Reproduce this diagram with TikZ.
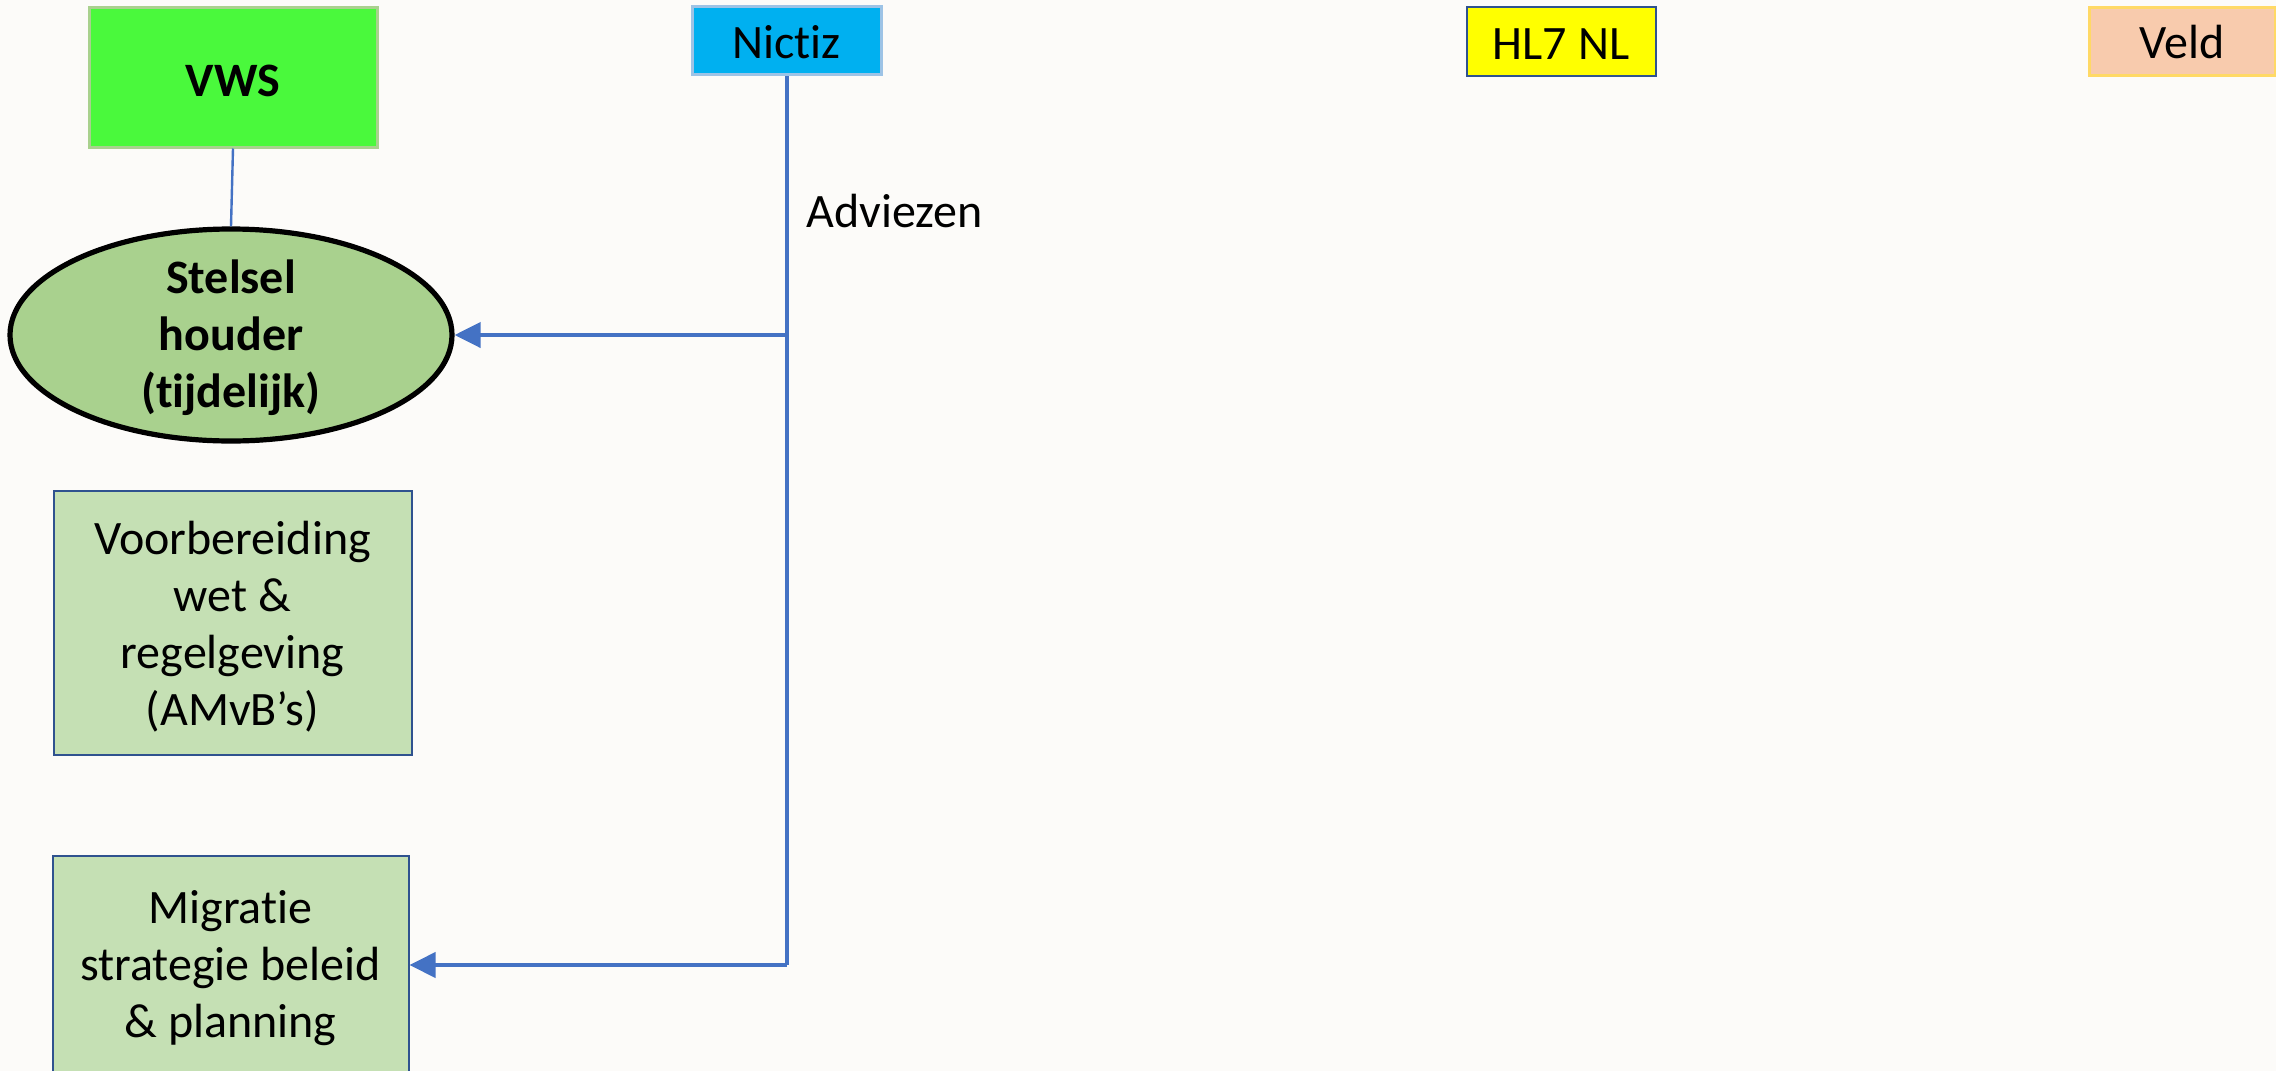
\documentclass[tikz,border=0pt]{standalone}
\usepackage{fontspec}
\setmainfont[Ligatures=NoCommon,RawFeature=-liga]{Carlito}
\usetikzlibrary{shapes.geometric,arrows.meta}
\definecolor{bgc}{RGB}{252,251,249}
\definecolor{vwsfill}{RGB}{74,249,60}
\definecolor{vwsline}{RGB}{169,209,142}
\definecolor{nicfill}{RGB}{0,176,240}
\definecolor{nicline}{RGB}{157,195,230}
\definecolor{hlfill}{RGB}{255,255,0}
\definecolor{darkblue}{RGB}{47,82,143}
\definecolor{veldfill}{RGB}{248,203,173}
\definecolor{veldline}{RGB}{255,217,102}
\definecolor{ellfill}{RGB}{169,209,142}
\definecolor{boxfill}{RGB}{197,224,180}
\definecolor{arrowblue}{RGB}{68,114,196}
\newcommand{\bigstrut}{\rule{0pt}{20pt}}
\newcommand{\smallstrut}{\rule{0pt}{18pt}}
\tikzset{
  txt/.style={font=\fontsize{24pt}{28.5pt}\selectfont, align=center, inner sep=0pt},
  topbox/.style={txt, rectangle, draw},
  greenbox/.style={txt, rectangle, draw=darkblue, line width=1pt, fill=boxfill},
  conn/.style={draw=arrowblue, line width=2pt},
  arr/.style={conn, -{Triangle[length=13pt,width=12.5pt]}},
}
\begin{document}
\begin{tikzpicture}[x=0.5pt,y=-0.5pt]
\fill[bgc] (0,0) rectangle (2276,1071);
\useasboundingbox (0,0) rectangle (2276,1071);
\node[topbox, fill=vwsfill, draw=vwsline, line width=1.5pt, minimum width=144pt, minimum height=70pt, font=\fontsize{24pt}{28.5pt}\selectfont\bfseries] (vws) at (233,77) {\bigstrut VWS};
\node[topbox, fill=nicfill, draw=nicline, line width=1.5pt, minimum width=94.5pt, minimum height=34pt] (nictiz) at (786.5,40.5) {\smallstrut Nictiz};
\node[topbox, fill=hlfill, draw=darkblue, line width=1pt, minimum width=94.5pt, minimum height=34.5pt] (hl7) at (1561,41) {\smallstrut HL7 NL};
\node[topbox, fill=veldfill, draw=veldline, line width=1.5pt, minimum width=93pt, minimum height=34pt] (veld) at (2182,41) {\smallstrut Veld};
\node[txt, ellipse, inner ysep=-6pt, draw=black, line width=2.6pt, fill=ellfill, minimum width=221pt, minimum height=106pt, font=\fontsize{24pt}{28.5pt}\selectfont\bfseries] (stelsel) at (231,335) {\bigstrut Stelsel\\houder\\(tijdelijk)};
\node[greenbox, minimum width=179pt, minimum height=132pt] (voorb) at (232.5,623) {\bigstrut Voorbereiding\\wet \&\\regelgeving\\(AMvB’s)};
\node[greenbox, minimum width=178pt, minimum height=109pt] (migr) at (230.5,965) {\bigstrut Migratie\\strategie beleid\\\& planning};
\node[txt, anchor=base west] (adv) at (806,227) {Adviezen};
\draw[draw=arrowblue, line width=1.2pt] (vws.south) -- (stelsel.north);
\draw[conn] (nictiz.south) -- (nictiz.south |- migr.east);
\draw[arr] (nictiz.south |- migr.east) -- (migr.east);
\draw[arr] (nictiz.south |- stelsel.east) -- (stelsel.east);
\end{tikzpicture}
\end{document}
